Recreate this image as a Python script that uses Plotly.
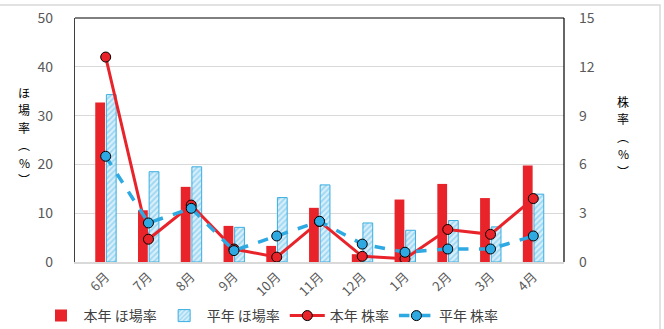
import plotly.graph_objects as go

# Months (June to April)
months = ["6月", "7月", "8月", "9月", "10月", "11月", "12月", "1月", "2月", "3月", "4月"]

# Field infection rate (%), left axis
field_this_year = [32.7, 10.6, 15.4, 7.4, 3.3, 11.1, 1.6, 12.8, 16.0, 13.1, 19.8]
field_normal = [34.3, 18.5, 19.5, 7.1, 13.2, 15.8, 8.0, 6.5, 8.5, 7.2, 13.9]

# Plant infection rate (%), right axis
plant_this_year = [12.6, 1.4, 3.5, 0.8, 0.3, 2.5, 0.35, 0.2, 2.0, 1.7, 3.9]
plant_normal = [6.5, 2.4, 3.3, 0.7, 1.6, 2.5, 1.1, 0.6, 0.8, 0.8, 1.6]

# Vertical axis titles, one glyph per row
left_title = ["ほ", "場", "率", "︵", "%", "︶"]
right_title = ["株", "率", "︵", "%", "︶"]

RED = "#E8232A"
BLUE = "#2FA9E1"
FONT = "Noto Sans CJK JP"

fig = go.Figure()

fig.add_trace(go.Bar(
    x=months, y=field_this_year, name="本年 ほ場率",
    marker=dict(color=RED, line=dict(width=0)),
    yaxis="y",
))
fig.add_trace(go.Bar(
    x=months, y=field_normal, name="平年 ほ場率",
    marker=dict(
        color="white",
        line=dict(color="#3AAEE0", width=1),
        pattern=dict(shape="/", fgcolor="#5DBDE9", bgcolor="#D9EFFA",
                     size=4, solidity=0.45),
    ),
    yaxis="y",
))
fig.add_trace(go.Scatter(
    x=months, y=plant_this_year, name="本年 株率", mode="lines+markers",
    line=dict(color=RED, width=3),
    marker=dict(symbol="circle", size=10, color=RED,
                line=dict(color="black", width=1)),
    yaxis="y2",
))
fig.add_trace(go.Scatter(
    x=months, y=plant_normal, name="平年 株率", mode="lines+markers",
    line=dict(color=BLUE, width=3.5, dash="dash"),
    marker=dict(symbol="circle", size=10, color=BLUE,
                line=dict(color="black", width=1)),
    yaxis="y2",
))

# plot area in pixels: x 75..564, y 18..262
L, R, T, B = 75, 564, 18, 262
W, H = 664, 329


def px(xp):
    return (xp - L) / (R - L)


def py(yp):
    return (B - yp) / (B - T)


shapes = [
    # outer chart frame
    dict(type="rect", xref="paper", yref="paper",
         x0=px(-3), x1=px(660), y0=py(340), y1=py(5),
         line=dict(color="#D9D9D9", width=1.5), layer="below"),
    # top and right borders of the plot area
    dict(type="line", xref="paper", yref="paper", x0=0, x1=1, y0=1, y1=1,
         line=dict(color="black", width=1.2)),
    dict(type="line", xref="paper", yref="paper", x0=1, x1=1, y0=0, y1=1,
         line=dict(color="black", width=1.2)),
]

# stacked axis titles, one glyph per annotation
PITCH = 17.5
title_font = dict(family=FONT, size=12, color="black")
annotations = []
for name, xc, yc in ((left_title, 24, 136), (right_title, 623, 136)):
    top = yc - PITCH * (len(name) - 1) / 2
    for i, ch in enumerate(name):
        annotations.append(dict(
            text=ch, xref="paper", yref="paper", x=px(xc), y=py(top + PITCH * i),
            showarrow=False, xanchor="center", yanchor="middle",
            borderpad=0, font=title_font))

fig.update_layout(
    width=W, height=H,
    margin=dict(l=L, r=W - R, t=T, b=H - B, autoexpand=False),
    paper_bgcolor="white", plot_bgcolor="white",
    font=dict(family=FONT, color="#595959"),
    barmode="group", bargap=0.48, bargroupgap=0.12,
    showlegend=True,
    legend=dict(orientation="h", x=px(271), xanchor="center",
                yref="container", y=1 - 316 / H, yanchor="middle",
                font=dict(size=14, color="#404040"),
                itemwidth=35, tracegroupgap=0, bgcolor="rgba(0,0,0,0)"),
    xaxis=dict(
        type="category", tickangle=-45, tickfont=dict(size=13, color="#595959"),
        showline=True, linecolor="#D9D9D9", linewidth=2, ticks="",
        showgrid=False, automargin=False,
    ),
    yaxis=dict(
        range=[0, 50], dtick=10, tickfont=dict(size=14, color="#595959"),
        showgrid=True, gridcolor="#D9D9D9", gridwidth=1,
        showline=True, linecolor="#404040", linewidth=1.2, ticks="",
        ticklabelstandoff=18, zeroline=False, automargin=False,
    ),
    yaxis2=dict(
        range=[0, 15], dtick=3, overlaying="y", side="right",
        tickfont=dict(size=14, color="#595959"), showgrid=False,
        ticks="", ticklabelstandoff=14, zeroline=False, automargin=False,
    ),
    shapes=shapes,
    annotations=annotations,
)

fig.write_html("out.html")
